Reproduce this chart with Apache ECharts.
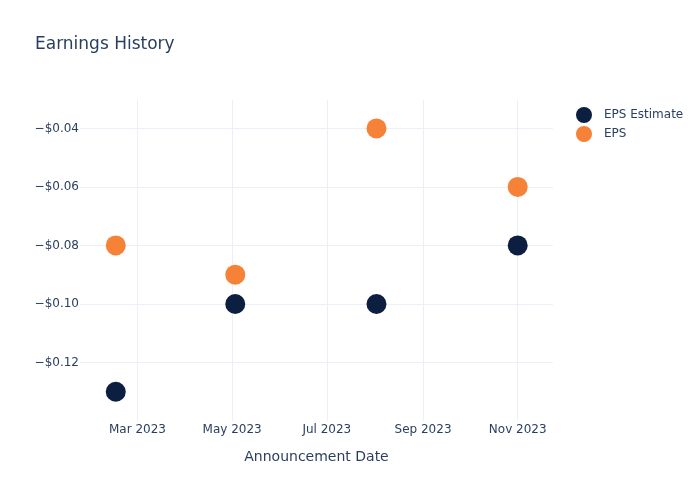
<!DOCTYPE html>
<html>
<head>
<meta charset="utf-8">
<script src="https://cdn.jsdelivr.net/npm/echarts@6/dist/echarts.min.js"></script>
<style>
html,body{margin:0;padding:0;background:#fff;}
#chart{width:700px;height:500px;}
</style>
</head>
<body>
<div id="chart"></div>
<script>
var dates = ['2023-02-15', '2023-05-03', '2023-08-02', '2023-11-01'];
var epsEstimate = [-0.13, -0.10, -0.10, -0.08];
var eps = [-0.08, -0.09, -0.04, -0.06];
var seriesNames = ['EPS Estimate', 'EPS'];
var monthNames = ['Jan','Feb','Mar','Apr','May','Jun','Jul','Aug','Sep','Oct','Nov','Dec'];

function toTime(s) {
  var p = s.split('-');
  return new Date(+p[0], +p[1] - 1, +p[2]).getTime();
}
var DAY = 86400000;
var xMin = toTime(dates[0]) - 23.05 * DAY;
var xMax = toTime(dates[dates.length - 1]) + 22.75 * DAY;

var textColor = '#2a3f5f';
var gridColor = '#EBF0F8';
var font = 'DejaVu Sans';

var chart = echarts.init(document.getElementById('chart'), null, {renderer: 'canvas'});
chart.setOption({
  animation: false,
  backgroundColor: '#ffffff',
  textStyle: {fontFamily: font},
  title: {
    text: 'Earnings History',
    left: 35, top: 36, padding: 0,
    textStyle: {fontFamily: font, fontSize: 17, fontWeight: 'normal', color: textColor}
  },
  legend: {
    data: seriesNames,
    orient: 'vertical',
    left: 571, top: 102,
    icon: 'circle',
    itemWidth: 30, itemHeight: 16, itemGap: 3,
    textStyle: {fontFamily: font, fontSize: 12, color: textColor}
  },
  grid: {left: 80, right: 147, top: 100, bottom: 79, containLabel: false},
  xAxis: {
    type: 'time',
    min: xMin, max: xMax,
    minInterval: 62 * DAY, maxInterval: 62 * DAY,
    name: 'Announcement Date',
    nameLocation: 'middle',
    nameGap: 29,
    nameTextStyle: {fontFamily: font, fontSize: 14, color: textColor},
    axisLine: {show: false},
    axisTick: {show: false},
    axisLabel: {
      margin: 3,
      fontFamily: font, fontSize: 12, color: textColor,
      showMinLabel: false, showMaxLabel: false,
      formatter: function (v) {
        var d = new Date(v);
        return monthNames[d.getMonth()] + ' ' + d.getFullYear();
      }
    },
    splitLine: {show: true, lineStyle: {color: gridColor, width: 1}, showMinLine: false, showMaxLine: false}
  },
  yAxis: {
    type: 'value',
    min: -0.14, max: -0.0303, interval: 0.02,
    axisLine: {show: false},
    axisTick: {show: false},
    axisLabel: {
      margin: 1,
      fontFamily: font, fontSize: 12, color: textColor,
      showMinLabel: false, showMaxLabel: false,
      formatter: function (v) {
        if (Math.abs(v + 0.14) < 1e-9 || v > -0.035) return '';
        return (v < 0 ? '\u2212' : '') + '$' + Math.abs(v).toFixed(2);
      }
    },
    splitLine: {show: true, lineStyle: {color: gridColor, width: 1}, showMinLine: false, showMaxLine: false}
  },
  series: [
    {
      name: seriesNames[0],
      type: 'scatter',
      symbol: 'circle',
      symbolSize: 20,
      itemStyle: {color: '#0d1f40', opacity: 1},
      data: dates.map(function (d, i) { return [toTime(d), epsEstimate[i]]; })
    },
    {
      name: seriesNames[1],
      type: 'scatter',
      symbol: 'circle',
      symbolSize: 20,
      itemStyle: {color: '#f68237', opacity: 1},
      data: dates.map(function (d, i) { return [toTime(d), eps[i]]; })
    }
  ]
});
</script>
</body>
</html>
